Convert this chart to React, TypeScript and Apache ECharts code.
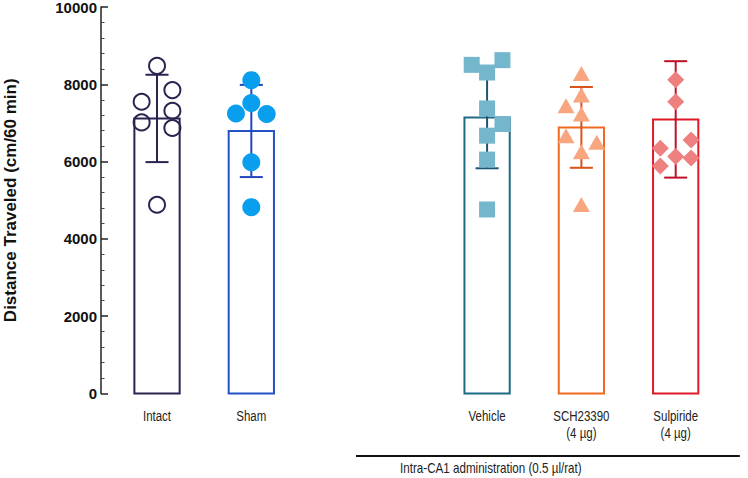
import React, { useEffect, useRef } from "react";
import * as echarts from "echarts";

const groups = ["Intact", "Sham", "Vehicle", "SCH23390\n(4 µg)", "Sulpiride\n(4 µg)"];
const groupPos = [0, 1, 3.5, 4.5, 5.5];
const means = [7117, 6792, 7143, 6885, 7092];
const sds = [1130, 1192, 1316, 1045, 1506];
const yTicks = [0, 2000, 4000, 6000, 8000, 10000];

// points per group: value and side (-1 left, 0 centre, 1 right)
const intactVals = [8477, 7548, 7850, 7316, 7014, 6869, 4883];
const intactSide = [0, -1, 1, 1, -1, 1, 0];
const shamVals = [8108, 7515, 7246, 7231, 5982, 4821];
const shamSide = [0, 0, -1, 1, 0, 0];
const vehicleVals = [8503, 8625, 8305, 7375, 6973, 6671, 6052, 4761];
const vehicleSide = [-1, 1, 0, 0, 1, 0, 0, 0];
const schVals = [8279, 7721, 7445, 7231, 6671, 6498, 6258, 4890];
const schSide = [0, 0, -1, 0, -1, 1, 0, 0];
const sulpVals = [8116, 7548, 6560, 6343, 6129, 6094, 5889];
const sulpSide = [0, 0, 1, -1, 0, 1, -1];

const bracketLabel = "Intra-CA1 administration (0.5 µl/rat)";

const barColors = ["#2a2450", "#2450c8", "#1f6a84", "#f0691f", "#e01a28"];
const errColors = ["#2a2450", "#2345c0", "#1c5472", "#d9531c", "#bf1028"];
const pointColors = ["#2a2450", "#0a9eee", "#74b7cc", "#f8a67f", "#ee8080"];

const JITTER = 0.163;

function pts(i: number, vals: number[], side: number[]) {
  return vals.map((v, k) => [groupPos[i] + side[k] * JITTER, v]);
}

export default function App() {
  const ref = useRef<HTMLDivElement>(null);
  useEffect(() => {
    if (!ref.current) return;
    const chart = echarts.init(ref.current, null, { renderer: "svg" });
    const font = "'Liberation Sans', Arial, sans-serif";

    const barData = groups.map((g, i) => [groupPos[i], means[i], sds[i], i]);

    const option: any = {
      animation: false,
      backgroundColor: "#ffffff",
      grid: {
        left: 101,
        top: 7,
        height: 386.5,
        width: 640.7,
        containLabel: false,
        outerBoundsMode: "none",
      },
      xAxis: {
        type: "value",
        min: -0.594,
        max: 6.2,
        show: false,
      },
      yAxis: {
        type: "value",
        min: yTicks[0],
        max: yTicks[yTicks.length - 1],
        interval: 2000,
        name: "Distance Traveled (cm/60 min)",
        nameLocation: "middle",
        nameGap: 82,
        nameTextStyle: { fontFamily: font, fontWeight: "bold", fontSize: 17, color: "#111" },
        axisLine: { show: true, onZero: false, lineStyle: { color: "#222", width: 1.5 } },
        axisTick: { show: true, inside: true, length: 7, lineStyle: { color: "#222", width: 1.5 } },
        minorTick: { show: true, splitNumber: 5, length: 3.5, lineStyle: { color: "#444", width: 1 } },
        axisLabel: {
          fontFamily: font,
          fontWeight: "bold",
          fontSize: 15,
          lineHeight: 13,
          color: "#111",
          margin: 4,
          formatter: (v: number) => String(v),
        },
        splitLine: { show: false },
      },
      series: [
        {
          type: "custom",
          clip: false,
          z: 1,
          data: barData,
          renderItem: (params: any, api: any) => {
            const x = api.value(0);
            const m = api.value(1);
            const sd = api.value(2);
            const i = api.value(3);
            const unit = api.size([1, 0])[0];
            const hw = unit * 0.24;
            const cap = unit * 0.122;
            const top = api.coord([x, m]);
            const base = api.coord([x, 0]);
            const eTop = api.coord([x, m + sd]);
            const eBot = api.coord([x, m - sd]);
            const col = barColors[i];
            const ec = errColors[i];
            const children: any[] = [
              {
                type: "rect",
                shape: { x: top[0] - hw, y: top[1], width: hw * 2, height: base[1] - top[1] },
                style: { fill: "none", stroke: col, lineWidth: 2 },
              },
              {
                type: "line",
                shape: { x1: top[0], y1: eTop[1], x2: top[0], y2: eBot[1] },
                style: { stroke: ec, lineWidth: 2 },
              },
              {
                type: "line",
                shape: { x1: top[0] - cap, y1: eTop[1], x2: top[0] + cap, y2: eTop[1] },
                style: { stroke: ec, lineWidth: 2 },
              },
              {
                type: "line",
                shape: { x1: top[0] - cap, y1: eBot[1], x2: top[0] + cap, y2: eBot[1] },
                style: { stroke: ec, lineWidth: 2 },
              },
              {
                type: "text",
                x: base[0],
                y: base[1] + 14,
                scaleX: 0.82,
                style: {
                  text: groups[i],
                  fontFamily: font,
                  fontSize: 14,
                  fill: "#222",
                  align: "center",
                  verticalAlign: "top",
                  lineHeight: 17,
                },
              },
            ];
            return { type: "group", children };
          },
        },
        {
          type: "custom",
          clip: false,
          data: [[2.11, 6.18, 3.54]],
          renderItem: (params: any, api: any) => {
            const a = api.coord([api.value(0), 0]);
            const b = api.coord([api.value(1), 0]);
            const c = api.coord([api.value(2), 0]);
            return {
              type: "group",
              children: [
                {
                  type: "line",
                  shape: { x1: a[0], y1: a[1] + 62.5, x2: b[0], y2: a[1] + 62.5 },
                  style: { stroke: "#111", lineWidth: 2 },
                },
                {
                  type: "text",
                  x: c[0],
                  y: a[1] + 68,
                  scaleX: 0.83,
                  style: {
                    text: bracketLabel,
                    fontFamily: font,
                    fontSize: 14,
                    fill: "#222",
                    align: "center",
                    verticalAlign: "top",
                  },
                },
              ],
            };
          },
        },
        {
          type: "scatter",
          z: 3,
          symbol: "circle",
          symbolSize: 16,
          data: pts(0, intactVals, intactSide),
          itemStyle: { color: "rgba(0,0,0,0)", borderColor: pointColors[0], borderWidth: 2, opacity: 1 },
        },
        {
          type: "scatter",
          z: 3,
          symbol: "circle",
          symbolSize: 18,
          data: pts(1, shamVals, shamSide),
          itemStyle: { color: pointColors[1], opacity: 1 },
        },
        {
          type: "scatter",
          z: 3,
          symbol: "rect",
          symbolSize: 16,
          data: pts(2, vehicleVals, vehicleSide),
          itemStyle: { color: pointColors[2], opacity: 1 },
        },
        {
          type: "scatter",
          z: 3,
          symbol: "triangle",
          symbolSize: [17, 15],
          data: pts(3, schVals, schSide),
          itemStyle: { color: pointColors[3], opacity: 1 },
        },
        {
          type: "scatter",
          z: 3,
          symbol: "diamond",
          symbolSize: [17, 17],
          data: pts(4, sulpVals, sulpSide),
          itemStyle: { color: pointColors[4], opacity: 1 },
        },
      ],
    };
    chart.setOption(option);
    return () => chart.dispose();
  }, []);
  return <div ref={ref} style={{ width: 748, height: 478, position: "absolute", left: 0, top: 0 }} />;
}
